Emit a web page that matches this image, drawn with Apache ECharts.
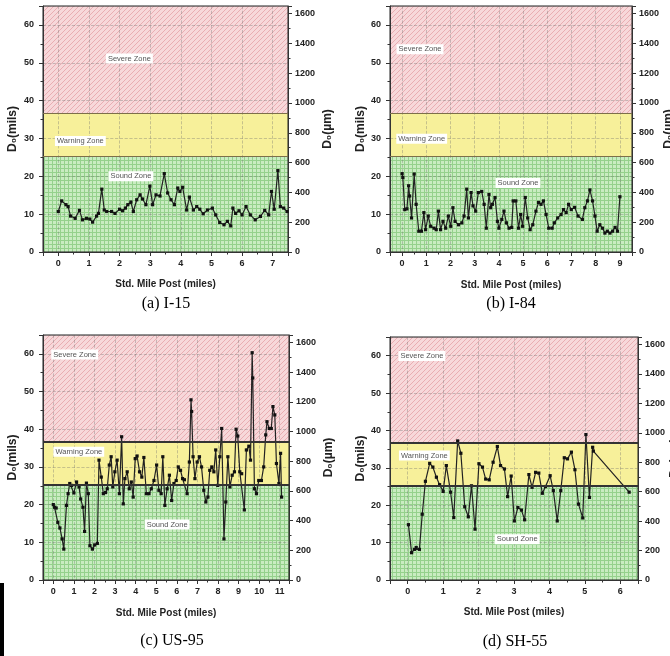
<!DOCTYPE html>
<html><head><meta charset="utf-8">
<script src="https://cdn.jsdelivr.net/npm/echarts@6/dist/echarts.min.js"></script>
<style>html,body{margin:0;padding:0;background:#fff}#c{width:670px;height:656px}</style>
</head><body><div id="c"></div>
<script>
// ---------------- data ----------------
const milesI15 = [0,0.11,0.25,0.32,0.40,0.55,0.69,0.79,0.92,1.03,1.12,1.25,1.31,1.42,1.50,1.58,1.74,1.85,2.0,2.1,2.19,2.27,2.37,2.45,2.56,2.67,2.75,2.86,2.99,3.08,3.19,3.32,3.46,3.57,3.68,3.79,3.90,3.97,4.06,4.19,4.28,4.41,4.52,4.62,4.73,4.87,5.03,5.14,5.27,5.41,5.52,5.63,5.70,5.79,5.90,6.0,6.13,6.27,6.43,6.60,6.74,6.87,6.96,7.05,7.17,7.25,7.36,7.47];
const milsI15  = [10.7,13.5,12.5,12.0,9.5,8.9,11.0,8.5,8.9,8.7,7.9,9.5,10.2,16.6,11.1,10.7,10.7,10.2,11.3,10.9,11.6,12.5,13.2,10.7,13.8,15.1,14.0,12.5,17.4,12.5,15.1,14.8,20.7,15.6,13.8,12.5,16.9,16.0,17.1,11.1,14.5,11.1,12.0,11.3,10.1,11.1,11.6,9.8,7.8,7.2,8.1,6.9,11.6,10.2,10.9,9.8,12.0,9.8,8.5,9.4,11.0,9.8,16.0,11.3,21.5,12.0,11.6,10.7];

const milesI84 = [0,0.03,0.11,0.2,0.27,0.31,0.39,0.5,0.58,0.69,0.8,0.9,0.97,1.08,1.18,1.32,1.41,1.5,1.59,1.69,1.8,1.91,2.01,2.1,2.19,2.33,2.47,2.56,2.67,2.74,2.85,2.93,3.04,3.15,3.29,3.39,3.48,3.59,3.66,3.73,3.84,3.94,4.0,4.12,4.21,4.31,4.42,4.53,4.59,4.70,4.81,4.9,4.98,5.09,5.19,5.29,5.4,5.53,5.64,5.74,5.84,5.95,6.06,6.2,6.29,6.43,6.57,6.67,6.78,6.88,6.99,7.13,7.27,7.45,7.55,7.66,7.76,7.87,7.97,8.06,8.17,8.28,8.38,8.48,8.59,8.70,8.8,8.9,9.0];
const milsI84  = [20.7,19.7,11.2,11.4,17.5,14.8,9.0,20.6,12.6,5.5,5.5,10.4,5.9,9.5,6.8,6.3,5.9,10.8,5.9,8.1,6.3,9.5,6.8,11.7,8.1,7.2,7.7,9.5,16.6,9.0,15.7,12.2,10.8,15.7,16.0,12.6,6.3,15.2,11.7,12.6,14.4,8.1,6.3,8.6,10.8,7.7,6.3,6.5,13.5,13.5,6.3,9.9,6.8,14.4,9.0,5.9,7.2,10.8,13.1,12.6,13.5,9.9,6.3,6.3,7.7,9.0,9.9,11.2,10.4,12.6,11.2,11.8,9.5,8.6,11.7,13.5,16.4,13.5,9.5,5.5,7.2,6.3,5.0,5.5,5.0,5.5,6.5,5.5,14.6];

const milesUS95 = [0,0.06,0.14,0.22,0.32,0.43,0.51,0.64,0.72,0.80,0.89,1.0,1.13,1.25,1.33,1.44,1.52,1.61,1.70,1.78,1.90,2.01,2.14,2.22,2.33,2.43,2.54,2.62,2.72,2.81,2.89,2.99,3.10,3.21,3.32,3.40,3.48,3.59,3.69,3.79,3.88,3.98,4.07,4.19,4.30,4.40,4.52,4.65,4.76,4.89,5.02,5.13,5.24,5.32,5.42,5.53,5.64,5.75,5.86,5.97,6.07,6.18,6.28,6.37,6.50,6.61,6.69,6.72,6.79,6.88,6.99,7.10,7.20,7.31,7.41,7.51,7.60,7.70,7.80,7.89,7.99,8.09,8.18,8.29,8.38,8.48,8.58,8.69,8.80,8.88,8.96,9.06,9.15,9.28,9.38,9.50,9.58,9.66,9.69,9.77,9.87,9.98,10.11,10.22,10.32,10.38,10.49,10.59,10.67,10.76,10.84,10.96,11.04,11.09];
const milsUS95  = [20.0,19.3,19.1,15.3,13.8,10.9,8.2,19.8,22.9,25.6,25.1,23.1,26.0,24.7,21.5,19.3,12.9,25.7,22.9,9.1,8.2,9.3,9.7,31.8,27.3,22.9,23.2,24.2,30.5,32.7,24.7,28.7,31.8,22.9,38.0,20.2,26.9,28.7,24.2,26.0,22.0,32.2,32.9,28.7,27.3,32.5,22.9,22.9,24.2,26.4,30.5,23.8,22.9,32.7,19.8,24.2,27.8,21.1,25.6,26.4,30.0,29.1,26.9,26.6,22.9,31.3,47.8,44.7,32.7,26.9,31.3,32.7,30.0,23.8,20.7,22.0,29.1,30.0,28.7,34.5,25.1,32.7,40.2,10.9,20.7,32.7,24.7,27.8,28.7,40.0,38.2,28.7,28.2,18.6,34.5,35.5,31.8,60.3,53.6,24.2,22.9,26.4,26.4,30.0,38.5,42.0,40.2,40.2,46.0,43.8,30.9,25.6,33.6,22.0];

const milesSH55 = [0.02,0.11,0.19,0.24,0.33,0.41,0.5,0.62,0.71,0.81,0.9,1.0,1.09,1.21,1.3,1.41,1.5,1.61,1.71,1.8,1.9,2.01,2.11,2.2,2.3,2.41,2.53,2.62,2.73,2.82,2.92,3.01,3.11,3.21,3.3,3.42,3.51,3.61,3.7,3.8,3.89,4.02,4.11,4.22,4.32,4.42,4.51,4.62,4.72,4.82,4.94,5.03,5.13,5.22,5.24,6.25];
const milsSH55  = [14.8,7.3,8.2,8.7,8.2,17.6,26.4,31.2,30.2,27.5,25.5,23.7,30.6,23.5,16.7,37.2,33.9,19.6,16.9,25.2,13.6,31.1,30.2,27.0,26.8,31.5,35.7,30.6,29.7,22.3,27.8,15.8,19.4,18.7,16.1,28.2,24.8,28.8,28.6,23.2,25.0,27.9,23.9,15.8,23.9,32.7,32.4,34.2,29.5,20.3,16.6,38.9,22.1,35.5,34.5,23.5];

const xTicksI15  = [0,1,2,3,4,5,6,7];
const xTicksI84  = [0,1,2,3,4,5,6,7,8,9];
const xTicksUS95 = [0,1,2,3,4,5,6,7,8,9,10,11];
const xTicksSH55 = [0,1,2,3,4,5,6];
const leftTicks  = [0,10,20,30,40,50,60];
const rightTicks = [0,200,400,600,800,1000,1200,1400,1600];

const zoneNames = ['Severe Zone','Warning Zone','Sound Zone'];
const captions = ['(a) I-15','(b) I-84','(c) US-95','(d) SH-55'];
const SOUND_MAX = 25.2, WARN_MAX = 36.6, Y_MAX = 65, UM_PER_MIL = 25.4;

// ---------------- patterns ----------------
function pinkPattern(){
  const c=document.createElement('canvas'); c.width=5; c.height=5;
  const g=c.getContext('2d'); g.fillStyle='#f7d8da'; g.fillRect(0,0,5,5);
  g.strokeStyle='#e9adb2'; g.lineWidth=1.0; g.beginPath();
  g.moveTo(-1,6); g.lineTo(6,-1); g.moveTo(-1,1); g.lineTo(1,-1); g.moveTo(4,6); g.lineTo(6,4); g.stroke();
  return c;
}
function greenPattern(){
  const c=document.createElement('canvas'); c.width=4; c.height=4;
  const g=c.getContext('2d'); g.fillStyle='#c9ecc1'; g.fillRect(0,0,4,4);
  g.fillStyle='#95d18c'; g.fillRect(0,0,4,1); g.fillRect(0,0,1,4);
  return c;
}
const pinkFill = {image: pinkPattern(), repeat:'repeat'};
const greenFill = {image: greenPattern(), repeat:'repeat'};

const FONT = '"Liberation Sans", Arial, sans-serif';

const panels = [
  {miles:milesI15, mils:milsI15, xTicks:xTicksI15, xMax:7.5, box:[43,6,245,246],
   lgap:24, rgap:34, rName:null, xgap:27, bColor:'#7d6f4a', bWidth:1,
   labels:[[2.32,51.1],[0.72,29.3],[2.37,20.0]], cap:[166,304]},
  {miles:milesI84, mils:milsI84, xTicks:xTicksI84, xMax:9.5, box:[390,6,242,246],
   lgap:18, rgap:0, rName:[669,129], xgap:28, bColor:'#7d6f4a', bWidth:1,
   labels:[[0.74,53.6],[0.81,29.9],[4.79,18.2]], cap:[511,304]},
  {miles:milesUS95, mils:milsUS95, xTicks:xTicksUS95, xMax:11.45, box:[43,335,246,245],
   lgap:24, rgap:34, rName:null, xgap:28, bColor:'#333', bWidth:2,
   labels:[[1.04,59.8],[1.24,34.0],[5.53,14.7]], cap:[172,641]},
  {miles:milesSH55, mils:milsSH55, xTicks:xTicksSH55, xMax:6.5, box:[390,337,248,243],
   lgap:18, rgap:0, rName:[675,458], xgap:27, bColor:'#333', bWidth:2,
   labels:[[0.40,59.9],[0.47,33.3],[3.09,10.9]], cap:[515,642]}
];

const option = {animation:false, grid:[], xAxis:[], yAxis:[], series:[], graphic:[]};
const axisCommon = {
  axisLine:{show:true, onZero:false, lineStyle:{color:'#333', width:1}},
  axisTick:{show:true, inside:false, length:4, lineStyle:{color:'#333'}},
  minorTick:{show:true, splitNumber:2, length:2.5, lineStyle:{color:'#333'}},
};
const nameStyle = (size)=>({fontFamily:FONT, fontWeight:'bold', fontSize:size, color:'#222'});
const RIGHT_NAME = 'D\u2080(\u00b5m)';

panels.forEach((p,i)=>{
  const pts = p.miles.map((m,k)=>[m, p.mils[k]]);
  option.grid.push({left:p.box[0], top:p.box[1], width:p.box[2], height:p.box[3],
    show:true, borderColor:'#222', borderWidth:1, backgroundColor:'transparent', z:2});
  option.xAxis.push(Object.assign({type:'value', gridIndex:i, min:-0.5, max:p.xMax,
    minInterval:1, maxInterval:1, z:2,
    name:'Std. Mile Post (miles)', nameLocation:'middle', nameGap:p.xgap, nameTextStyle:nameStyle(10),
    axisLabel:{formatter:v=>p.xTicks.includes(v)?String(v):'', fontFamily:FONT, fontWeight:'bold', fontSize:9, color:'#222', margin:7},
    splitLine:{show:true, lineStyle:{type:'dashed', color:'rgba(110,110,110,0.45)', width:0.8}}}, axisCommon));
  option.yAxis.push(Object.assign({type:'value', gridIndex:i, min:0, max:Y_MAX, interval:10, position:'left', z:2,
    name:'D\u2080(mils)', nameLocation:'middle', nameRotate:90, nameGap:p.lgap, nameTextStyle:nameStyle(12),
    axisLabel:{formatter:v=>leftTicks.includes(v)?String(v):'', fontFamily:FONT, fontWeight:'bold', fontSize:9, color:'#222', margin:9},
    splitLine:{show:true, lineStyle:{type:'dashed', color:'rgba(110,110,110,0.45)', width:0.8}}}, axisCommon));
  option.yAxis.push(Object.assign({type:'value', gridIndex:i, min:0, max:Y_MAX*UM_PER_MIL, interval:200, position:'right', z:2,
    name:p.rName ? '' : RIGHT_NAME, nameLocation:'middle', nameRotate:90, nameGap:p.rgap, nameTextStyle:nameStyle(12),
    axisLabel:{formatter:v=>rightTicks.includes(v)?String(v):'', fontFamily:FONT, fontWeight:'bold', fontSize:9, color:'#222', margin:7},
    splitLine:{show:false}}, axisCommon));
  if (p.rName) {
    option.graphic.push({type:'text', x:p.rName[0], y:p.rName[1], rotation:Math.PI/2,
      style:{text:RIGHT_NAME, font:'bold 12px "Liberation Sans", Arial, sans-serif', fill:'#222', textAlign:'center', textVerticalAlign:'middle'}});
  }
  // zones
  option.series.push({type:'line', xAxisIndex:i, yAxisIndex:2*i, data:pts, symbol:'none', silent:true, z:1,
    lineStyle:{opacity:0},
    markArea:{silent:true, data:[
      [{yAxis:0, itemStyle:{color:greenFill, opacity:1}},{yAxis:SOUND_MAX}],
      [{yAxis:SOUND_MAX, itemStyle:{color:'#f7f09a', opacity:1}},{yAxis:WARN_MAX}],
      [{yAxis:WARN_MAX, itemStyle:{color:pinkFill, opacity:1}},{yAxis:Y_MAX}]
    ]},
    markLine:{silent:true, symbol:'none', label:{show:false},
      lineStyle:{color:p.bColor, width:p.bWidth, type:'solid'},
      data:[{yAxis:SOUND_MAX},{yAxis:WARN_MAX}]}
  });
  // data line
  option.series.push({type:'line', xAxisIndex:i, yAxisIndex:2*i, data:pts, z:3,
    symbol:'rect', symbolSize:3.2, showSymbol:true, itemStyle:{color:'#111'},
    lineStyle:{color:'#222', width:1.2},
    markPoint:{silent:true, symbol:'rect', symbolSize:1, itemStyle:{color:'rgba(0,0,0,0)'},
      label:{show:true, position:'inside', fontFamily:FONT, fontSize:7.5, color:'#555', backgroundColor:'#fff', padding:[1,2]},
      data:p.labels.map((c,k)=>({coord:c, label:{formatter:zoneNames[k]}}))}
  });
  option.graphic.push({type:'text', x:p.cap[0], y:p.cap[1],
    style:{text:captions[i], font:'16px "Liberation Serif", "Times New Roman", serif', fill:'#000', textAlign:'center', textVerticalAlign:'middle'}});
});
option.graphic.push({type:'rect', shape:{x:0, y:583, width:4, height:73}, style:{fill:'#000'}});

const chart = echarts.init(document.getElementById('c'), null, {renderer:'canvas'});
chart.setOption(option);
</script>
</body></html>
